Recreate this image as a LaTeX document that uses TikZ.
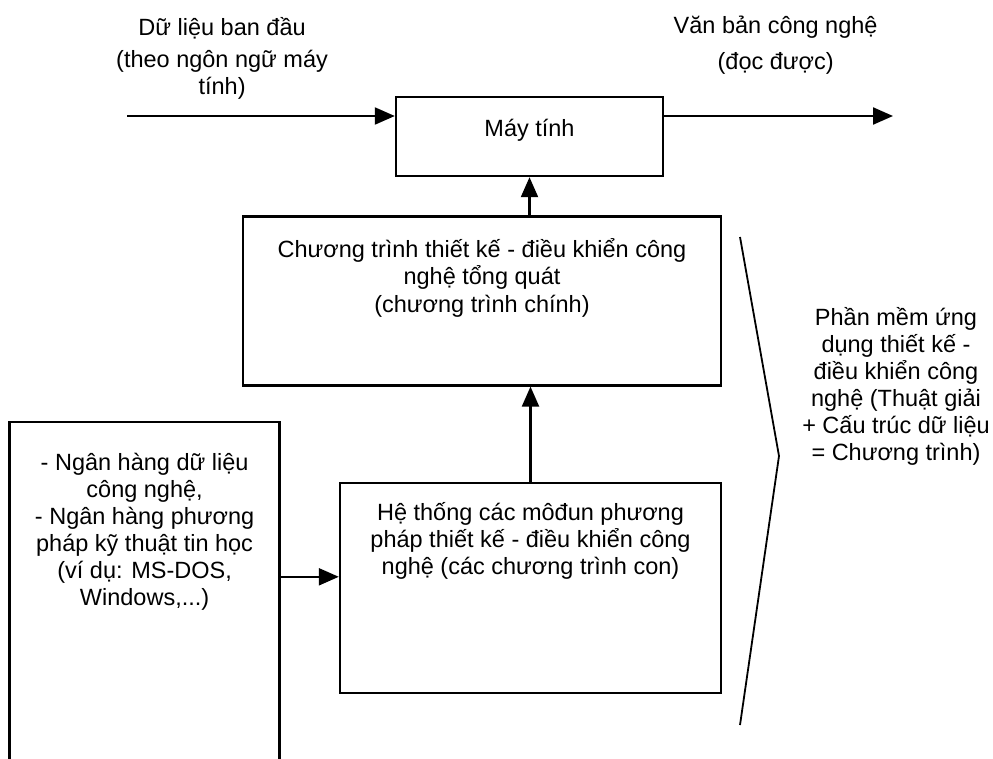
\documentclass[tikz,border=0pt]{standalone}
\usepackage{fontspec}
\setmainfont{Liberation Sans}
\usetikzlibrary{positioning, arrows.meta}

\begin{document}
\begin{tikzpicture}[
    x=1pt, y=1pt,
    block/.style={draw=black, line width=2.4pt, inner sep=0pt},
    txt/.style={align=center, inner sep=0pt},
    arr/.style={-{Triangle[length=20pt, width=17pt]}, line width=2.2pt},
    every node/.style={font=\fontsize{23.5}{27}\selectfont}
]

\clip (0,0) rectangle (993,-758);

% boxes
\node[block, minimum width=267pt, minimum height=79pt, text height=0pt, text depth=0pt] (pc) at (529.5,-136.5) {Máy tính};
\node[block, minimum width=478pt, minimum height=169pt, below=38pt of pc, xshift=-47.5pt,
      label={[txt, anchor=north, yshift=-23pt]north:{Chương trình thiết kế - điều khiển công\\nghệ tổng quát\\[1pt](chương trình chính)}}] (prog) {};
\node[block, minimum width=381pt, minimum height=210pt, below=95pt of prog, xshift=48.5pt,
      label={[txt, anchor=north, yshift=-21pt]north:{Hệ thống các môđun phương\\pháp thiết kế - điều khiển công\\nghệ (các chương trình con)}}] (modules) {};
\node[block, minimum width=270pt, minimum height=380pt, left=58pt of modules, yshift=-24pt,
      label={[txt, anchor=north, yshift=-32pt]north:{- Ngân hàng dữ liệu\\công nghệ,\\- Ngân hàng phương\\pháp kỹ thuật tin học\\(ví dụ: MS-DOS,\\Windows,...)}}] (bank) {};

% input and output
\coordinate (src) at (127,-116);
\coordinate (sink) at (893,-116);
\draw[arr] (src) -- node[txt, above=16pt, pos=0.355] (rawlbl) {Dữ liệu ban đầu\\[5pt](theo ngôn ngữ máy\\tính)} (src -| pc.west);
\draw[arr] (sink -| pc.east) -- node[txt, above=41pt, pos=0.487] (doclbl) {Văn bản công nghệ\\[9pt](đọc được)} (sink);

% flow upwards
\draw[arr] (modules.north) -- (modules.north |- prog.south);
\draw[arr] (prog.north -| pc.south) -- (pc.south);
\coordinate (tip) at ([yshift=11pt]modules.west);
\draw[arr] (tip -| bank.east) -- (tip);

% bracket on the right
\draw[line width=1.8pt] (740,-237) -- (779,-456) -- (740,-725);
\node[txt] (soft) at (896,-386) {Phần mềm ứng\\dụng thiết kế -\\điều khiển công\\nghệ (Thuật giải\\+ Cấu trúc dữ liệu\\= Chương trình)};

\end{tikzpicture}
\end{document}
